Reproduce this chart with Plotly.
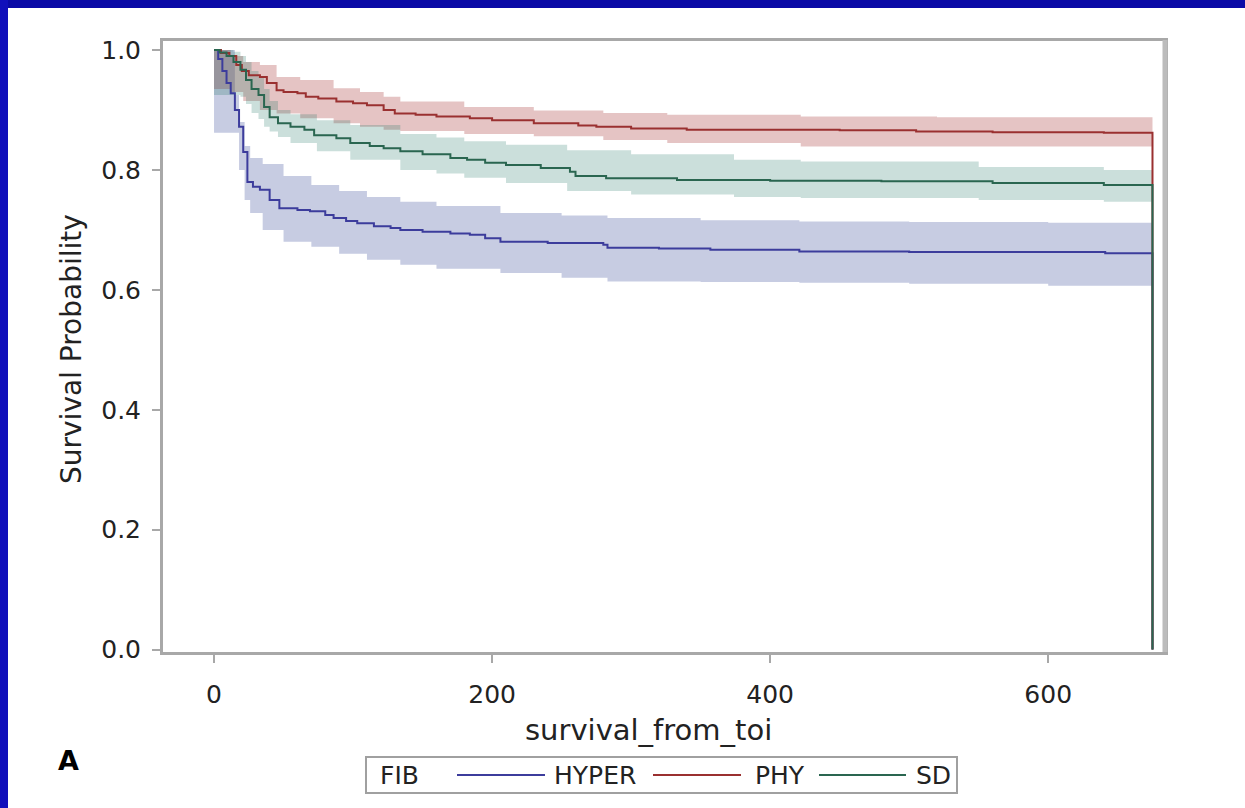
import plotly.graph_objects as go

# ---------------- data ----------------
groups = ["HYPER", "PHY", "SD"]

hyper_t = [0, 3, 6, 9, 12, 15, 18, 21, 24, 28, 33, 40, 47, 60, 69, 80, 86, 95, 103, 115, 127, 134, 150, 170, 184, 195, 206, 240, 280, 283, 320, 357, 421, 500, 560, 641, 675]
hyper_s = [1.0, 0.985, 0.965, 0.945, 0.928, 0.9, 0.872, 0.83, 0.78, 0.772, 0.767, 0.75, 0.736, 0.733, 0.731, 0.725, 0.72, 0.715, 0.711, 0.706, 0.703, 0.70, 0.697, 0.694, 0.692, 0.686, 0.68, 0.678, 0.675, 0.67, 0.669, 0.667, 0.664, 0.663, 0.663, 0.661, 0.0]

phy_t = [0, 5, 11, 16, 20, 25, 33, 38, 45, 50, 60, 66, 75, 88, 100, 110, 122, 130, 145, 160, 184, 200, 230, 262, 275, 300, 340, 395, 450, 505, 560, 640, 675]
phy_s = [1.0, 0.995, 0.99, 0.975, 0.965, 0.958, 0.955, 0.945, 0.933, 0.93, 0.928, 0.922, 0.919, 0.914, 0.911, 0.908, 0.9, 0.894, 0.892, 0.889, 0.886, 0.883, 0.878, 0.874, 0.872, 0.869, 0.867, 0.867, 0.866, 0.864, 0.863, 0.862, 0.0]

sd_t = [0, 4, 9, 14, 19, 23, 27, 32, 36, 40, 46, 55, 65, 72, 88, 98, 112, 122, 134, 150, 170, 182, 195, 210, 235, 256, 260, 282, 333, 400, 480, 560, 640, 675]
sd_s = [1.0, 0.996, 0.99, 0.98, 0.967, 0.95, 0.935, 0.925, 0.905, 0.888, 0.878, 0.872, 0.867, 0.858, 0.853, 0.845, 0.84, 0.836, 0.831, 0.826, 0.82, 0.817, 0.812, 0.808, 0.803, 0.797, 0.79, 0.786, 0.783, 0.782, 0.781, 0.778, 0.775, 0.0]

# confidence bands
hyper_bt = [0, 15, 18, 22, 26, 35, 50, 70, 90, 110, 134, 160, 206, 250, 283, 350, 421, 500, 600, 675]
hyper_up = [1.0, 0.925, 0.88, 0.84, 0.82, 0.81, 0.79, 0.775, 0.765, 0.755, 0.747, 0.74, 0.728, 0.724, 0.72, 0.716, 0.714, 0.713, 0.712, 0.712]
hyper_lo = [0.862, 0.862, 0.80, 0.75, 0.728, 0.70, 0.68, 0.672, 0.66, 0.65, 0.642, 0.635, 0.628, 0.62, 0.614, 0.613, 0.612, 0.61, 0.607, 0.607]

phy_bt = [0, 12, 21, 33, 45, 62, 86, 105, 122, 134, 180, 230, 280, 326, 422, 520, 675]
phy_up = [1.0, 0.99, 0.98, 0.975, 0.955, 0.95, 0.936, 0.93, 0.922, 0.914, 0.905, 0.899, 0.895, 0.892, 0.889, 0.888, 0.887]
phy_lo = [0.935, 0.93, 0.915, 0.9, 0.894, 0.886, 0.878, 0.872, 0.867, 0.865, 0.86, 0.856, 0.85, 0.845, 0.839, 0.839, 0.839]

sd_bt = [0, 14, 19, 23, 27, 32, 36, 40, 46, 55, 74, 98, 134, 160, 180, 210, 254, 300, 374, 422, 550, 640, 675]
sd_up = [1.0, 0.997, 0.99, 0.98, 0.965, 0.955, 0.935, 0.915, 0.9, 0.893, 0.883, 0.875, 0.86, 0.854, 0.848, 0.842, 0.833, 0.826, 0.817, 0.814, 0.805, 0.80, 0.80]
sd_lo = [0.925, 0.925, 0.922, 0.91, 0.895, 0.885, 0.872, 0.864, 0.855, 0.845, 0.831, 0.817, 0.80, 0.794, 0.787, 0.778, 0.765, 0.759, 0.755, 0.753, 0.75, 0.747, 0.747]

x_ticks = [0, 200, 400, 600]
y_ticks = [0.0, 0.2, 0.4, 0.6, 0.8, 1.0]
x_title = "survival_from_toi"
y_title = "Survival Probability"
legend_title = "FIB"
panel_label = "A"

# ---------------- styling ----------------
line_colors = ["#3c3c9c", "#9a3030", "#2a6650"]
band_colors = ["rgba(68,86,160,0.30)", "rgba(170,60,60,0.30)", "rgba(20,110,90,0.22)"]
FONT = "DejaVu Sans"
TXT = "#222222"

W, H = 1245, 808
L, R, T, B = 163, 1165, 41, 652


def px(x):
    return (x - L) / (R - L)


def py(y):
    return (B - y) / (B - T)


series = [
    (hyper_t, hyper_s, hyper_bt, hyper_lo, hyper_up),
    (phy_t, phy_s, phy_bt, phy_lo, phy_up),
    (sd_t, sd_s, sd_bt, sd_lo, sd_up),
]

fig = go.Figure()

for i, (t, s, bt, lo, up) in enumerate(series):
    fig.add_trace(go.Scatter(x=bt, y=lo, mode="lines", line=dict(width=0, shape="hv"),
                             showlegend=False, hoverinfo="skip"))
    fig.add_trace(go.Scatter(x=bt, y=up, mode="lines", line=dict(width=0, shape="hv"),
                             fill="tonexty", fillcolor=band_colors[i],
                             showlegend=False, hoverinfo="skip"))

for i, (t, s, bt, lo, up) in enumerate(series):
    fig.add_trace(go.Scatter(x=t, y=s, mode="lines", name=groups[i],
                             line=dict(color=line_colors[i], width=2, shape="hv"),
                             showlegend=False))

shapes = []
# blue frame (top and left)
shapes.append(dict(type="rect", xref="paper", yref="paper", x0=px(0), x1=px(W), y0=py(0), y1=py(8),
                   fillcolor="#0a0aa6", line=dict(width=0), layer="above"))
shapes.append(dict(type="rect", xref="paper", yref="paper", x0=px(0), x1=px(8), y0=py(0), y1=py(H),
                   fillcolor="#100fbb", line=dict(width=0), layer="above"))
# thicker right frame edge
shapes.append(dict(type="line", xref="paper", yref="paper", x0=px(R), x1=px(R), y0=py(B), y1=py(T - 1),
                   line=dict(color="#bcbcbc", width=5), layer="above"))
# manual legend box
shapes.append(dict(type="rect", xref="paper", yref="paper", x0=px(366), x1=px(957), y0=py(793), y1=py(757),
                   fillcolor="white", line=dict(color="#a0a0a0", width=2)))
leg_lines = [(457, 545), (653, 741), (819, 906)]
for i, (a, b) in enumerate(leg_lines):
    shapes.append(dict(type="line", xref="paper", yref="paper", x0=px(a), x1=px(b), y0=py(775), y1=py(775),
                       line=dict(color=line_colors[i], width=2)))

annotations = []
annotations.append(dict(text=legend_title, x=px(378), y=py(775), xref="paper", yref="paper",
                        xanchor="left", yanchor="middle", showarrow=False,
                        font=dict(family=FONT, size=25, color=TXT)))
leg_text_x = [552, 753, 914]
for i, g in enumerate(groups):
    annotations.append(dict(text=g, x=px(leg_text_x[i]), y=py(775), xref="paper", yref="paper",
                            xanchor="left", yanchor="middle", showarrow=False,
                            font=dict(family=FONT, size=25, color=TXT)))
annotations.append(dict(text=x_title, x=px(648), y=py(730), xref="paper", yref="paper",
                        xanchor="center", yanchor="middle", showarrow=False,
                        font=dict(family=FONT, size=29, color=TXT)))
annotations.append(dict(text=y_title, x=px(71), y=py(349), xref="paper", yref="paper",
                        xanchor="center", yanchor="middle", showarrow=False, textangle=-90,
                        font=dict(family=FONT, size=28, color=TXT)))
annotations.append(dict(text="<b>" + panel_label + "</b>", x=px(68), y=py(760), xref="paper", yref="paper",
                        xanchor="center", yanchor="middle", showarrow=False,
                        font=dict(family=FONT, size=27, color="#000000")))

fig.update_layout(
    width=W, height=H,
    margin=dict(l=L, r=W - R, t=T, b=H - B, pad=0),
    paper_bgcolor="white", plot_bgcolor="white",
    showlegend=False,
    shapes=shapes, annotations=annotations,
    xaxis=dict(range=[-36.7, 684], tickvals=x_ticks, ticktext=[str(v) for v in x_ticks],
               showgrid=False, zeroline=False, showline=True, linecolor="#a8a8a8", linewidth=3,
               mirror=True, ticks="outside", ticklen=8, tickcolor="#a8a8a8", tickwidth=2,
               ticklabelstandoff=10,
               tickfont=dict(family=FONT, size=25, color=TXT)),
    yaxis=dict(range=[-0.004, 1.015], tickvals=y_ticks, ticktext=["%.1f" % v for v in y_ticks],
               showgrid=False, zeroline=False, showline=True, linecolor="#a8a8a8", linewidth=3,
               mirror=True, ticks="outside", ticklen=8, tickcolor="#a8a8a8", tickwidth=2,
               ticklabelstandoff=6,
               tickfont=dict(family=FONT, size=25, color=TXT)),
)

fig.write_html("out.html", config={"displayModeBar": False},
               post_script="document.body.style.margin='0';document.body.style.overflow='hidden';")
